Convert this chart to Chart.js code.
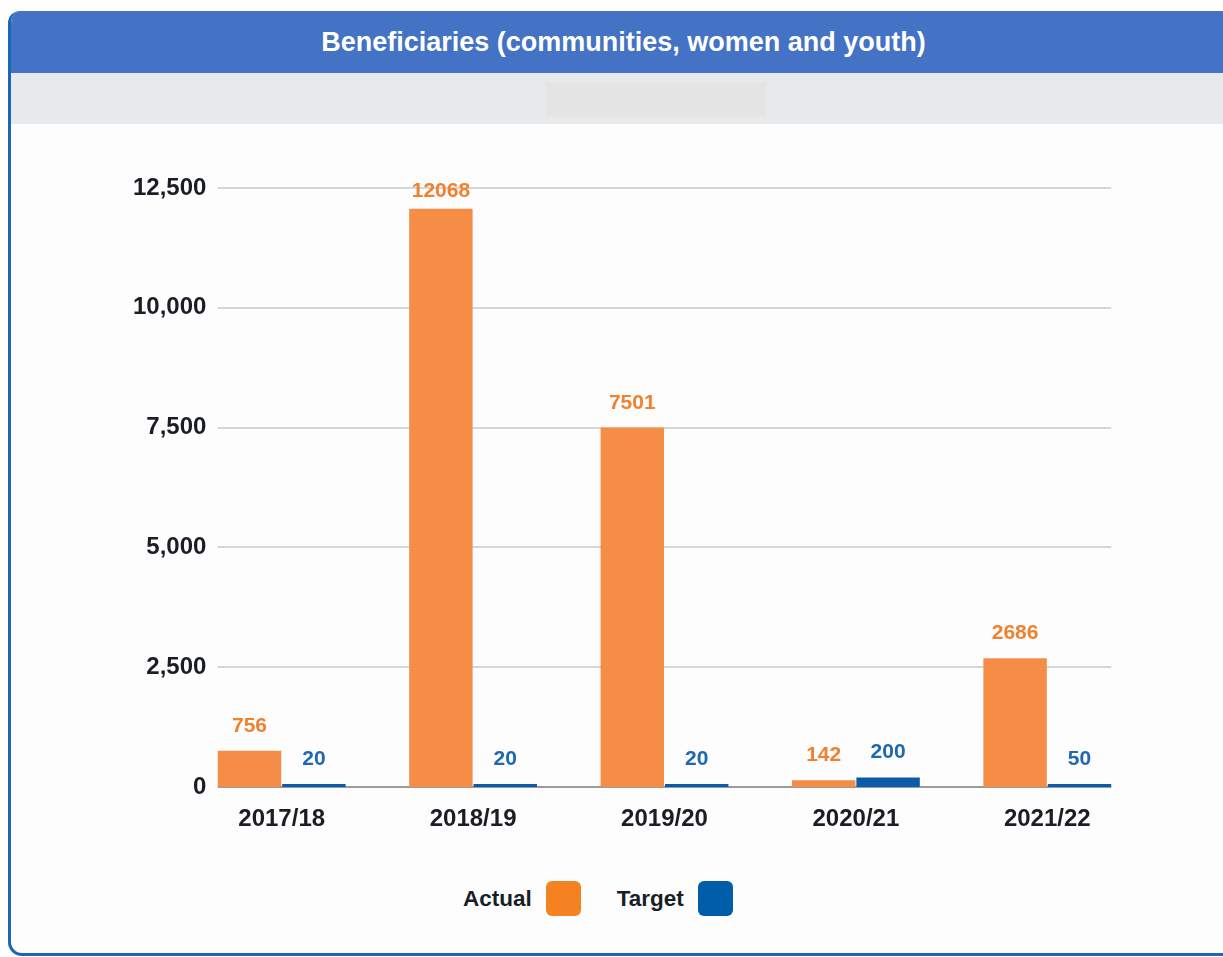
<!DOCTYPE html>
<html lang="en">
<head>
    <meta charset="UTF-8">
    <title>Beneficiaries (communities, women and youth)</title>
    <script src="https://cdn.jsdelivr.net/npm/chart.js@4.4.1/dist/chart.umd.min.js"></script>
    <style>
        body { margin: 0; background: #ffffff; font-family: "Liberation Sans", Arial, sans-serif; }
        .card {
            position: absolute; left: 8px; top: 11px; width: 1231px; height: 945px;
            background: #fdfdfd; border-radius: 12px 12px 0 14px; overflow: hidden;
            border-left: 3px solid #1c66b4; border-bottom: 3px solid #1c66b4; box-sizing: border-box;
        }
        .card-head {
            height: 62px; background: #4472c4; color: #fff; font-weight: bold; font-size: 27px;
            display: flex; align-items: center; justify-content: center; margin-left: -3px;
        }
        .card-band { height: 51px; background: #e8e9eb; position: relative; }
        .card-band .blank { position: absolute; left: 535px; top: 9px; width: 220px; height: 35px; background: #e4e4e4; }
        .chart-box { position: absolute; left: 0; top: 140px; width: 1223px; height: 720px; }
        .legend { position: absolute; left: 463px; top: 881px; display: flex; align-items: center; font-weight: bold; font-size: 22.5px; color: #1a1f26; }
        .legend .sw { width: 35px; height: 35px; border-radius: 6px; margin-left: 14px; }
    </style>
</head>
<body>
    <div class="card">
        <div class="card-head">Beneficiaries (communities, women and youth)</div>
        <div class="card-band"><div class="blank"></div></div>
    </div>
    <div class="chart-box"><canvas id="chart"></canvas></div>
    <div class="legend">
        <span>Actual</span><span class="sw" style="background:#f58220"></span>
        <span style="margin-left:36px">Target</span><span class="sw" style="background:#005daa"></span>
    </div>

    <script>
        // data
        const years = ['2017/18', '2018/19', '2019/20', '2020/21', '2021/22'];
        const actual = [756, 12068, 7501, 142, 2686];
        const target = [20, 20, 20, 200, 50];
        const yTicks = [0, 2500, 5000, 7500, 10000, 12500];

        const labelColors = ['#f0822f', '#1e69b0'];

        // horizontal grid only across the bar groups
        const gridPlugin = {
            id: 'grid',
            beforeDatasetsDraw(chart) {
                const ctx = chart.ctx;
                const y = chart.scales.y;
                const first = chart.getDatasetMeta(0).data[0];
                const last = chart.getDatasetMeta(1).data[years.length - 1];
                const x0 = first.x - first.width / 2;
                const x1 = last.x + last.width / 2;
                ctx.save();
                yTicks.forEach(v => {
                    const py = Math.round(y.getPixelForValue(v));
                    ctx.strokeStyle = v === 0 ? '#9b9b9b' : '#d6d6d6';
                    ctx.lineWidth = 2;
                    ctx.beginPath();
                    ctx.moveTo(x0, py);
                    ctx.lineTo(x1, py);
                    ctx.stroke();
                });
                ctx.restore();
            }
        };

        const valuePlugin = {
            id: 'values',
            afterDatasetsDraw(chart) {
                const ctx = chart.ctx;
                const top = chart.chartArea.top;
                ctx.save();
                ctx.font = 'bold 21px "Liberation Sans", Arial, sans-serif';
                ctx.textAlign = 'center';
                ctx.textBaseline = 'alphabetic';
                chart.data.datasets.forEach((ds, i) => {
                    ctx.fillStyle = labelColors[i];
                    chart.getDatasetMeta(i).data.forEach((bar, j) => {
                        ctx.fillText(String(ds.data[j]), bar.x, Math.max(bar.y - 19, top + 9));
                    });
                });
                ctx.restore();
            }
        };

        new Chart(document.getElementById('chart'), {
            type: 'bar',
            data: {
                labels: years,
                datasets: [
                    { label: 'Actual', data: actual, backgroundColor: '#f58d47' },
                    { label: 'Target', data: target, backgroundColor: '#0b5ba8' }
                ]
            },
            options: {
                responsive: true,
                maintainAspectRatio: false,
                animation: false,
                categoryPercentage: 0.673,
                barPercentage: 0.985,
                minBarLength: 3,
                layout: { padding: { left: 126, right: 80, top: 48, bottom: 13 } },
                plugins: { legend: { display: false }, tooltip: { enabled: false } },
                scales: {
                    x: {
                        grid: { display: false },
                        border: { display: false },
                        ticks: {
                            color: '#1a1e24',
                            padding: 10,
                            font: { family: '"Liberation Sans", Arial, sans-serif', size: 24, weight: 'bold' }
                        },
                        afterFit(scale) { scale.height = 60; }
                    },
                    y: {
                        min: 0,
                        max: 12500,
                        grid: { display: false, drawTicks: false },
                        border: { display: false },
                        ticks: {
                            stepSize: 2500,
                            mirror: true,
                            crossAlign: 'far',
                            padding: -53,
                            color: '#1a1e24',
                            font: { family: '"Liberation Sans", Arial, sans-serif', size: 24, weight: 'bold' },
                            callback: v => v.toLocaleString('en-US')
                        },
                        afterFit(scale) { scale.width = 60; }
                    }
                }
            },
            plugins: [gridPlugin, valuePlugin]
        });
    </script>
</body>
</html>
